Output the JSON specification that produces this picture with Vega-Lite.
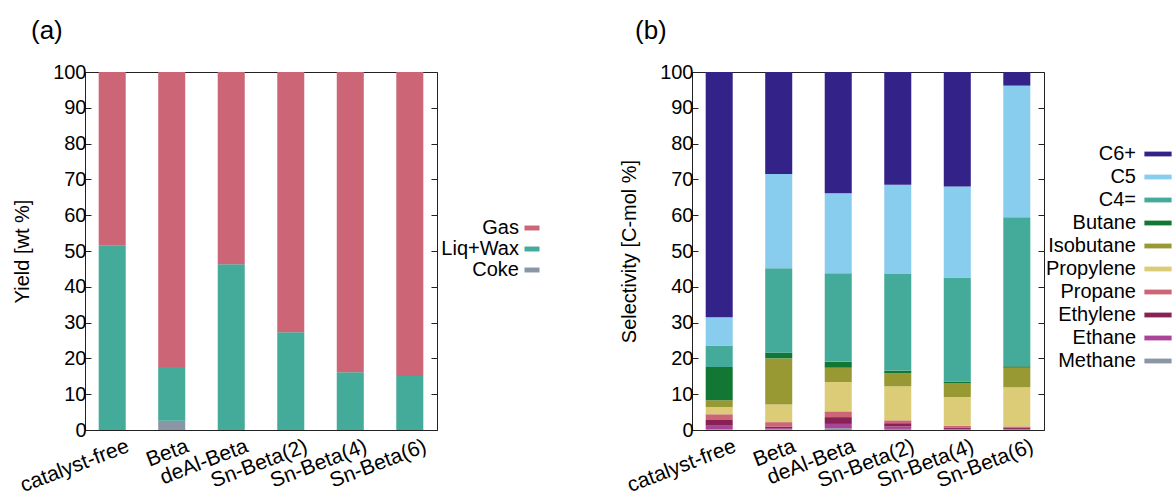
{
  "$schema": "https://vega.github.io/schema/vega-lite/v6.json",
  "padding": {"left": 12, "top": 17, "right": 0, "bottom": 0},
  "config": {
    "font": "Liberation Sans",
    "view": {"stroke": "#222", "strokeWidth": 1},
    "axis": {"grid": false, "domain": false, "labelFontSize": 20, "titleFontSize": 20, "titleFontWeight": "normal", "labelColor": "#000", "titleColor": "#000", "tickColor": "#222"},
    "axisX": {"labelFontSize": 21},
    "legend": {"labelFontSize": 20, "labelColor": "#000", "symbolStrokeWidth": 0}
  },
  "resolve": {"scale": {"color": "independent"}, "legend": {"color": "independent"}},
  "datasets": {
    "yield": [
      {"cat": "catalyst-free", "comp": "Coke", "v": 0},
      {"cat": "catalyst-free", "comp": "Liq+Wax", "v": 51.5},
      {"cat": "catalyst-free", "comp": "Gas", "v": 48.5},
      {"cat": "Beta", "comp": "Coke", "v": 2.6},
      {"cat": "Beta", "comp": "Liq+Wax", "v": 15.0},
      {"cat": "Beta", "comp": "Gas", "v": 82.4},
      {"cat": "deAl-Beta", "comp": "Coke", "v": 0},
      {"cat": "deAl-Beta", "comp": "Liq+Wax", "v": 46.3},
      {"cat": "deAl-Beta", "comp": "Gas", "v": 53.7},
      {"cat": "Sn-Beta(2)", "comp": "Coke", "v": 0},
      {"cat": "Sn-Beta(2)", "comp": "Liq+Wax", "v": 27.3},
      {"cat": "Sn-Beta(2)", "comp": "Gas", "v": 72.7},
      {"cat": "Sn-Beta(4)", "comp": "Coke", "v": 0},
      {"cat": "Sn-Beta(4)", "comp": "Liq+Wax", "v": 16.1},
      {"cat": "Sn-Beta(4)", "comp": "Gas", "v": 83.9},
      {"cat": "Sn-Beta(6)", "comp": "Coke", "v": 0},
      {"cat": "Sn-Beta(6)", "comp": "Liq+Wax", "v": 15.1},
      {"cat": "Sn-Beta(6)", "comp": "Gas", "v": 84.9}
    ],
    "sel": [
      {"cat": "catalyst-free", "comp": "Methane", "v": 0.2},
      {"cat": "catalyst-free", "comp": "Ethane", "v": 1.0},
      {"cat": "catalyst-free", "comp": "Ethylene", "v": 1.6},
      {"cat": "catalyst-free", "comp": "Propane", "v": 1.6},
      {"cat": "catalyst-free", "comp": "Propylene", "v": 2.0},
      {"cat": "catalyst-free", "comp": "Isobutane", "v": 1.9},
      {"cat": "catalyst-free", "comp": "Butane", "v": 9.3},
      {"cat": "catalyst-free", "comp": "C4=", "v": 6.0},
      {"cat": "catalyst-free", "comp": "C5", "v": 7.9},
      {"cat": "catalyst-free", "comp": "C6+", "v": 68.5},
      {"cat": "Beta", "comp": "Methane", "v": 0.2},
      {"cat": "Beta", "comp": "Ethane", "v": 0.3},
      {"cat": "Beta", "comp": "Ethylene", "v": 0.4},
      {"cat": "Beta", "comp": "Propane", "v": 1.3},
      {"cat": "Beta", "comp": "Propylene", "v": 4.9},
      {"cat": "Beta", "comp": "Isobutane", "v": 12.9},
      {"cat": "Beta", "comp": "Butane", "v": 1.6},
      {"cat": "Beta", "comp": "C4=", "v": 23.6},
      {"cat": "Beta", "comp": "C5", "v": 26.3},
      {"cat": "Beta", "comp": "C6+", "v": 28.5},
      {"cat": "deAl-Beta", "comp": "Methane", "v": 0.5},
      {"cat": "deAl-Beta", "comp": "Ethane", "v": 1.2},
      {"cat": "deAl-Beta", "comp": "Ethylene", "v": 1.9},
      {"cat": "deAl-Beta", "comp": "Propane", "v": 1.6},
      {"cat": "deAl-Beta", "comp": "Propylene", "v": 8.2},
      {"cat": "deAl-Beta", "comp": "Isobutane", "v": 4.0},
      {"cat": "deAl-Beta", "comp": "Butane", "v": 1.7},
      {"cat": "deAl-Beta", "comp": "C4=", "v": 24.7},
      {"cat": "deAl-Beta", "comp": "C5", "v": 22.3},
      {"cat": "deAl-Beta", "comp": "C6+", "v": 33.9},
      {"cat": "Sn-Beta(2)", "comp": "Methane", "v": 0.3},
      {"cat": "Sn-Beta(2)", "comp": "Ethane", "v": 0.7},
      {"cat": "Sn-Beta(2)", "comp": "Ethylene", "v": 0.9},
      {"cat": "Sn-Beta(2)", "comp": "Propane", "v": 0.8},
      {"cat": "Sn-Beta(2)", "comp": "Propylene", "v": 9.5},
      {"cat": "Sn-Beta(2)", "comp": "Isobutane", "v": 3.7},
      {"cat": "Sn-Beta(2)", "comp": "Butane", "v": 0.7},
      {"cat": "Sn-Beta(2)", "comp": "C4=", "v": 27.0},
      {"cat": "Sn-Beta(2)", "comp": "C5", "v": 24.9},
      {"cat": "Sn-Beta(2)", "comp": "C6+", "v": 31.5},
      {"cat": "Sn-Beta(4)", "comp": "Methane", "v": 0.1},
      {"cat": "Sn-Beta(4)", "comp": "Ethane", "v": 0.2},
      {"cat": "Sn-Beta(4)", "comp": "Ethylene", "v": 0.3},
      {"cat": "Sn-Beta(4)", "comp": "Propane", "v": 0.6},
      {"cat": "Sn-Beta(4)", "comp": "Propylene", "v": 8.0},
      {"cat": "Sn-Beta(4)", "comp": "Isobutane", "v": 3.8},
      {"cat": "Sn-Beta(4)", "comp": "Butane", "v": 0.5},
      {"cat": "Sn-Beta(4)", "comp": "C4=", "v": 29.1},
      {"cat": "Sn-Beta(4)", "comp": "C5", "v": 25.4},
      {"cat": "Sn-Beta(4)", "comp": "C6+", "v": 32.0},
      {"cat": "Sn-Beta(6)", "comp": "Methane", "v": 0.1},
      {"cat": "Sn-Beta(6)", "comp": "Ethane", "v": 0.2},
      {"cat": "Sn-Beta(6)", "comp": "Ethylene", "v": 0.4},
      {"cat": "Sn-Beta(6)", "comp": "Propane", "v": 0.3},
      {"cat": "Sn-Beta(6)", "comp": "Propylene", "v": 10.9},
      {"cat": "Sn-Beta(6)", "comp": "Isobutane", "v": 5.5},
      {"cat": "Sn-Beta(6)", "comp": "Butane", "v": 0.4},
      {"cat": "Sn-Beta(6)", "comp": "C4=", "v": 41.6},
      {"cat": "Sn-Beta(6)", "comp": "C5", "v": 36.8},
      {"cat": "Sn-Beta(6)", "comp": "C6+", "v": 3.8}
    ]
  },
  "spacing": 78,
  "hconcat": [
    {
      "title": {"text": "(a)", "anchor": "start", "frame": "group", "dx": -54, "fontSize": 26, "fontWeight": "normal", "offset": 18, "color": "#000"},
      "width": 352,
      "height": 358,
      "data": {"name": "yield"},
      "transform": [{"calculate": "indexof(['Gas','Liq+Wax','Coke'], datum.comp)", "as": "o"}],
      "layer": [
        {
          "mark": {"type": "bar"},
          "encoding": {
            "x": {"field": "cat", "type": "nominal", "sort": null, "scale": {"paddingInner": 0.546, "paddingOuter": 0.23}, "axis": {"title": null, "labelAngle": -21, "ticks": false, "labelPadding": 5, "labelOffset": 12}},
            "y": {"field": "v", "type": "quantitative", "stack": "zero", "scale": {"domain": [0, 100], "nice": false}, "axis": {"title": "Yield [wt %]", "values": [0, 10, 20, 30, 40, 50, 60, 70, 80, 90, 100], "tickSize": -6, "labelPadding": 5, "titlePadding": 20}},
            "color": {"field": "comp", "type": "nominal", "scale": {"domain": ["Gas", "Liq+Wax", "Coke"], "range": ["#CC6677", "#44AA99", "#8A96A6"]}, "legend": {"title": null, "orient": "none", "legendX": 437, "legendY": 146, "symbolType": "M-1,-0.33H1V0.33H-1Z", "symbolSize": 225, "labelAlign": "right", "labelOffset": -23, "rowPadding": 1}},
            "order": {"field": "o", "sort": "descending"}
          }
        },
        {
          "mark": {"type": "rule", "opacity": 0},
          "encoding": {
            "y": {"field": "v", "type": "quantitative", "scale": {"domain": [0, 100], "nice": false}, "axis": {"orient": "right", "labels": false, "title": null, "tickSize": -6, "values": [0, 10, 20, 30, 40, 50, 60, 70, 80, 90, 100]}}
          }
        }
      ],
      "resolve": {"axis": {"y": "independent"}}
    },
    {
      "title": {"text": "(b)", "anchor": "start", "frame": "group", "dx": -57, "fontSize": 26, "fontWeight": "normal", "offset": 18, "color": "#000"},
      "width": 352,
      "height": 358,
      "data": {"name": "sel"},
      "transform": [{"calculate": "indexof(['C6+','C5','C4=','Butane','Isobutane','Propylene','Propane','Ethylene','Ethane','Methane'], datum.comp)", "as": "o"}],
      "layer": [
        {
          "mark": {"type": "bar"},
          "encoding": {
            "x": {"field": "cat", "type": "nominal", "sort": null, "scale": {"paddingInner": 0.546, "paddingOuter": 0.23}, "axis": {"title": null, "labelAngle": -21, "ticks": false, "labelPadding": 5, "labelOffset": 12}},
            "y": {"field": "v", "type": "quantitative", "stack": "zero", "scale": {"domain": [0, 100], "nice": false}, "axis": {"title": "Selectivity [C-mol %]", "values": [0, 10, 20, 30, 40, 50, 60, 70, 80, 90, 100], "tickSize": -6, "labelPadding": 5, "titlePadding": 20}},
            "color": {"field": "comp", "type": "nominal", "scale": {"domain": ["C6+", "C5", "C4=", "Butane", "Isobutane", "Propylene", "Propane", "Ethylene", "Ethane", "Methane"], "range": ["#332288", "#88CCEE", "#44AA99", "#117733", "#999933", "#DDCC77", "#CC6677", "#882255", "#AA4499", "#8A96A6"]}, "legend": {"title": null, "orient": "none", "legendX": 456, "legendY": 72, "symbolType": "M-1.7,-0.3H1.7V0.3H-1.7Z", "symbolSize": 256, "labelAlign": "right", "labelOffset": -32, "labelFontSize": 20, "rowPadding": 3}},
            "order": {"field": "o", "sort": "descending"}
          }
        },
        {
          "mark": {"type": "rule", "opacity": 0},
          "encoding": {
            "y": {"field": "v", "type": "quantitative", "scale": {"domain": [0, 100], "nice": false}, "axis": {"orient": "right", "labels": false, "title": null, "tickSize": -6, "values": [0, 10, 20, 30, 40, 50, 60, 70, 80, 90, 100]}}
          }
        }
      ],
      "resolve": {"axis": {"y": "independent"}}
    }
  ]
}
